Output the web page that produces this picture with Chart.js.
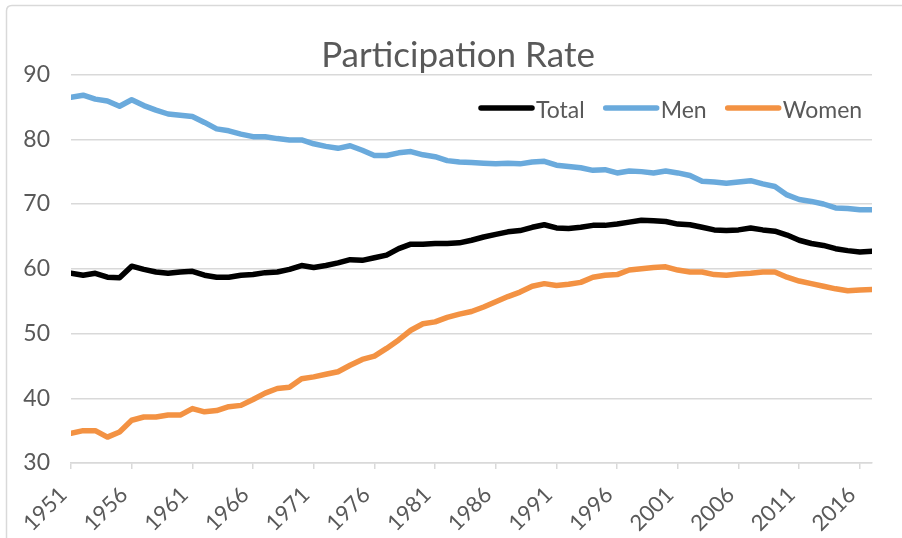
<!DOCTYPE html>
<html>
<head>
<meta charset="utf-8">
<script src="https://cdn.jsdelivr.net/npm/chart.js@4.4.1/dist/chart.umd.min.js"></script>
<style>
  html, body { margin: 0; padding: 0; background: #ffffff; }
  #wrap { position: relative; width: 902px; height: 538px; }
</style>
</head>
<body>
<div id="wrap"><canvas id="c" width="902" height="538"></canvas></div>
<script>
const years = [1951,1952,1953,1954,1955,1956,1957,1958,1959,1960,
  1961,1962,1963,1964,1965,1966,1967,1968,1969,1970,
  1971,1972,1973,1974,1975,1976,1977,1978,1979,1980,
  1981,1982,1983,1984,1985,1986,1987,1988,1989,1990,
  1991,1992,1993,1994,1995,1996,1997,1998,1999,2000,
  2001,2002,2003,2004,2005,2006,2007,2008,2009,2010,
  2011,2012,2013,2014,2015,2016,2017];

const totalRate = [59.3,59.0,59.3,58.7,58.6,60.4,59.9,59.5,59.3,59.5,
  59.6,59.0,58.7,58.7,59.0,59.1,59.4,59.5,59.9,60.5,
  60.2,60.5,60.9,61.4,61.3,61.7,62.1,63.1,63.8,63.8,
  63.9,63.9,64.0,64.4,64.9,65.3,65.7,65.9,66.4,66.8,
  66.3,66.2,66.4,66.7,66.7,66.9,67.2,67.5,67.4,67.3,
  66.9,66.8,66.4,66.0,65.9,66.0,66.3,66.0,65.8,65.2,
  64.4,63.9,63.6,63.1,62.8,62.6,62.7];

const menRate = [86.5,86.8,86.2,85.9,85.1,86.1,85.2,84.5,83.9,83.7,
  83.5,82.6,81.6,81.3,80.8,80.4,80.4,80.1,79.9,79.9,
  79.3,78.9,78.6,79.0,78.3,77.5,77.5,77.9,78.1,77.6,
  77.3,76.7,76.5,76.4,76.3,76.2,76.3,76.2,76.5,76.6,
  76.0,75.8,75.6,75.2,75.3,74.8,75.1,75.0,74.8,75.1,
  74.8,74.4,73.5,73.4,73.2,73.4,73.6,73.1,72.7,71.4,
  70.7,70.4,70.0,69.4,69.3,69.1,69.1];

const womenRate = [34.6,35.0,35.0,34.0,34.8,36.6,37.1,37.1,37.4,37.4,
  38.4,37.9,38.1,38.7,38.9,39.8,40.8,41.5,41.7,43.0,
  43.3,43.7,44.1,45.1,46.0,46.5,47.7,49.0,50.5,51.5,
  51.8,52.5,53.0,53.4,54.1,54.9,55.7,56.4,57.3,57.7,
  57.4,57.6,57.9,58.7,59.0,59.1,59.8,60.0,60.2,60.3,
  59.8,59.5,59.5,59.1,59.0,59.2,59.3,59.5,59.5,58.7,
  58.1,57.7,57.3,56.9,56.6,56.7,56.8];

const tickYears = [1951,1956,1961,1966,1971,1976,1981,1986,1991,1996,2001,2006,2011,2016];
const yTicks = [30,40,50,60,70,80,90];

const seriesNames = ['Total','Men','Women'];
const seriesColors = ['#000000','#6aaadc','#f39243'];
const seriesValues = [totalRate, menRate, womenRate];

const toPoints = vals => years.map((y, i) => ({x: y, y: vals[i]}));

const borderPlugin = {
  id: 'outerBorder',
  beforeDraw(chart) {
    const ctx = chart.ctx;
    ctx.save();
    ctx.strokeStyle = '#d9d9d9';
    ctx.lineWidth = 1.5;
    ctx.beginPath();
    ctx.moveTo(6.5, 600);
    ctx.lineTo(6.5, 11);
    ctx.quadraticCurveTo(6.5, 5.5, 12, 5.5);
    ctx.lineTo(1000, 5.5);
    ctx.stroke();
    ctx.restore();
  }
};

const legendPlugin = {
  id: 'lineLegend',
  afterDraw(chart) {
    const ctx = chart.ctx;
    ctx.save();
    ctx.font = '23px Lato';
    ctx.textBaseline = 'middle';
    ctx.textAlign = 'left';
    let x = 479;
    const yLine = 108;
    const yText = 111;
    chart.data.datasets.forEach((ds) => {
      ctx.strokeStyle = ds.borderColor;
      ctx.lineWidth = 5.5;
      ctx.lineCap = 'round';
      ctx.beginPath();
      ctx.moveTo(x + 2, yLine);
      ctx.lineTo(x + 53, yLine);
      ctx.stroke();
      ctx.fillStyle = '#595959';
      ctx.fillText(ds.label, x + 57, yText);
      x += 57 + ctx.measureText(ds.label).width + 19;
    });
    ctx.restore();
  }
};

new Chart(document.getElementById('c'), {
  type: 'line',
  data: {
    datasets: seriesNames.map((name, i) => ({
      label: name,
      data: toPoints(seriesValues[i]),
      borderColor: seriesColors[i],
      backgroundColor: seriesColors[i],
      borderWidth: 5.5,
      pointRadius: 0,
      tension: 0,
      borderJoinStyle: 'round',
      borderCapStyle: 'round',
      fill: false
    }))
  },
  options: {
    responsive: false,
    animation: false,
    devicePixelRatio: 1,
    layout: { padding: { left: 14, right: 0, top: 0, bottom: 0 } },
    plugins: {
      legend: { display: false },
      tooltip: { enabled: false },
      title: {
        display: true,
        text: 'Participation Rate',
        color: '#595959',
        font: { family: 'Lato', size: 35, weight: 'normal', lineHeight: 1.1 },
        padding: { top: 36, bottom: 0 }
      }
    },
    scales: {
      x: {
        type: 'linear',
        min: 1951,
        max: 2017,
        afterBuildTicks: axis => { axis.ticks = tickYears.map(v => ({ value: v })); },
        afterFit: scale => { scale.height = 75; scale.paddingRight = 30; },
        grid: { display: true, drawOnChartArea: false, drawTicks: true, tickLength: 6, color: '#d9d9d9', lineWidth: 1.5 },
        border: { display: true, color: '#d9d9d9', width: 1.5 },
        ticks: {
          autoSkip: false,
          minRotation: 45,
          maxRotation: 45,
          padding: 5,
          color: '#595959',
          font: { family: 'Lato', size: 22 },
          callback: v => String(v) + '\u2002'
        }
      },
      y: {
        min: 30,
        max: 90,
        afterBuildTicks: axis => { axis.ticks = yTicks.map(v => ({ value: v })); },
        afterFit: scale => { scale.width = 57; },
        grid: { color: '#d9d9d9', lineWidth: 1.5, drawTicks: false },
        border: { display: false },
        ticks: {
          padding: 21,
          color: '#595959',
          font: { family: 'Lato', size: 23 },
          callback: v => String(v)
        }
      }
    }
  },
  plugins: [borderPlugin, legendPlugin]
});
</script>
</body>
</html>
